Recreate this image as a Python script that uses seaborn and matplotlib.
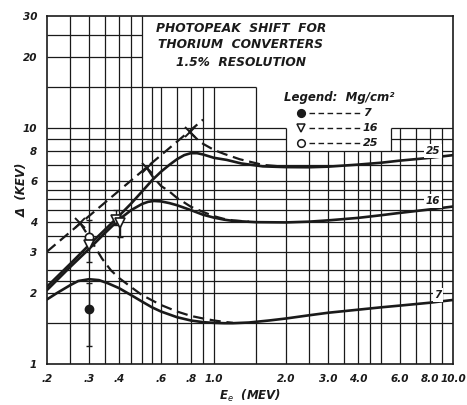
import matplotlib
matplotlib.use("Agg")
import matplotlib.pyplot as plt
from matplotlib.ticker import NullLocator
import pandas as pd
import seaborn as sns

sns.set_theme(style="white")
plt.rcParams["font.family"] = ["DejaVu Sans"]

# ---------------- data ----------------
# 7 mg/cm2 curve (solid)
x_7 = [0.2, 0.22, 0.25, 0.27, 0.3, 0.33, 0.36, 0.4, 0.45, 0.5, 0.55, 0.6, 0.7, 0.8,
       0.9, 1.0, 1.1, 1.2, 1.4, 1.7, 2.0, 2.5, 3.0, 4.0, 5.0, 6.0, 8.0, 10.0]
y_7 = [1.88, 2.0, 2.16, 2.25, 2.29, 2.27, 2.2, 2.1, 1.96, 1.84, 1.74, 1.67, 1.58, 1.53,
       1.505, 1.495, 1.49, 1.49, 1.5, 1.53, 1.56, 1.61, 1.65, 1.7, 1.74, 1.77, 1.82, 1.87]
# 7 mg/cm2 dashed branch
xd_7 = [0.275, 0.29, 0.30, 0.32, 0.34, 0.37, 0.4, 0.45, 0.5, 0.6, 0.7, 0.8, 0.9, 1.0, 1.1, 1.2]
yd_7 = [3.97, 3.65, 3.45, 3.1, 2.8, 2.5, 2.32, 2.12, 1.96, 1.78, 1.67, 1.6, 1.56, 1.53, 1.51, 1.495]

# 16 mg/cm2 curve (solid)
x_16 = [0.2, 0.25, 0.3, 0.35, 0.4, 0.45, 0.5, 0.53, 0.56, 0.6, 0.65, 0.7, 0.8, 0.9, 1.0,
        1.1, 1.2, 1.5, 2.0, 2.5, 3.0, 4.0, 5.0, 6.0, 8.0, 10.0]
y_16 = [2.06, 2.58, 3.08, 3.6, 4.1, 4.5, 4.78, 4.88, 4.92, 4.9, 4.82, 4.72, 4.5, 4.3, 4.18,
        4.1, 4.05, 4.0, 3.99, 4.02, 4.07, 4.17, 4.28, 4.38, 4.53, 4.66]
# 16 mg/cm2 dashed branch
xd_16 = [0.524, 0.55, 0.6, 0.65, 0.7, 0.8, 0.9, 1.0, 1.1, 1.2, 1.4]
yd_16 = [6.79, 6.3, 5.7, 5.4, 5.07, 4.65, 4.42, 4.24, 4.13, 4.07, 4.02]

# 25 mg/cm2 curve (solid)
x_25 = [0.2, 0.25, 0.3, 0.35, 0.4, 0.45, 0.5, 0.55, 0.6, 0.65, 0.7, 0.75, 0.8, 0.85, 0.9,
        1.0, 1.13, 1.3, 1.6, 2.0, 2.5, 3.0, 4.0, 5.0, 6.0, 8.0, 10.0]
y_25 = [2.13, 2.66, 3.2, 3.72, 4.25, 4.8, 5.4, 6.02, 6.55, 7.0, 7.4, 7.7, 7.85, 7.85, 7.75,
        7.5, 7.35, 7.1, 6.9, 6.85, 6.84, 6.88, 7.02, 7.15, 7.3, 7.5, 7.7]
# 25 mg/cm2 dashed branch
xd_25 = [0.79, 0.85, 0.9, 1.0, 1.1, 1.28, 1.6, 2.0]
yd_25 = [9.66, 9.0, 8.6, 8.1, 7.8, 7.4, 7.0, 6.87]

# straight dashed line and its crossing marks
x_line = [0.2, 0.9]
y_line = [3.0, 10.9]
x_cross = [0.275, 0.524, 0.794]
y_cross = [3.97, 6.79, 9.66]

# measured points
pt7_x, pt7_y, pt7_lo, pt7_hi = [0.3], [1.71], [1.19], [2.2]
pt25_x, pt25_y, pt25_lo, pt25_hi = [0.3], [3.45], [3.3], [4.1]
pt16_x = [0.3, 0.388, 0.405]
pt16_y = [3.2, 4.1, 3.95]
pt16_lo = [2.72, 3.9, 3.45]
pt16_hi = [3.35, 4.5, 4.2]

xtick_vals = [0.2, 0.3, 0.4, 0.6, 0.8, 1.0, 2.0, 3.0, 4.0, 6.0, 8.0, 10.0]
xtick_labels = [".2", ".3", ".4", ".6", ".8", "1.0", "2.0", "3.0", "4.0", "6.0", "8.0", "10.0"]
ytick_vals = [1, 2, 3, 4, 6, 8, 10, 20, 30]
ytick_labels = ["1", "2", "3", "4", "6", "8", "10", "20", "30"]

title_lines = ["PHOTOPEAK  SHIFT  FOR", "THORIUM  CONVERTERS", "1.5%  RESOLUTION"]
legend_title = "Legend:  Mg/cm²"
legend_labels = ["7", "16", "25"]

# ---------------- figure ----------------
W, H = 467, 405
fig = plt.figure(figsize=(W / 100, H / 100), dpi=100)
fig.patch.set_facecolor("white")
ax = fig.add_axes([47 / W, 41 / H, 406 / W, 348 / H])
ax.set_facecolor("white")
ax.set_xscale("log")
ax.set_yscale("log")
ax.set_xlim(0.2, 10)
ax.set_ylim(1, 30)

# graph-paper grid (segments)
glw = 0.9
h_full = [1.5, 2, 2.25, 2.5, 3, 3.5, 4, 4.5, 5, 5.5, 6, 7, 8]
for yv in h_full:
    ax.hlines(yv, 0.2, 10, color="k", lw=glw, zorder=1)
for yv in [9, 10]:
    ax.hlines(yv, 0.2, 2.0, color="k", lw=glw, zorder=1)
    ax.hlines(yv, 5.5, 10, color="k", lw=glw, zorder=1)
ax.hlines(15, 0.2, 1.5, color="k", lw=glw, zorder=1)
for yv in [20, 25]:
    ax.hlines(yv, 0.2, 0.5, color="k", lw=glw, zorder=1)
for xv in [0.25, 0.3, 0.35, 0.4, 0.45, 0.5]:
    ax.vlines(xv, 1, 30, color="k", lw=glw, zorder=1)
for xv in [0.55, 0.6, 0.7, 0.8, 0.9, 1.0, 1.5]:
    ax.vlines(xv, 1, 15, color="k", lw=glw, zorder=1)
for xv in [2.0, 6.0, 7.0, 8.0, 9.0]:
    ax.vlines(xv, 1, 10, color="k", lw=glw, zorder=1)
for xv in [2.5, 3.0, 3.5, 4.0, 4.5, 5.0]:
    ax.vlines(xv, 1, 8, color="k", lw=glw, zorder=1)
ax.vlines(5.5, 8, 10, color="k", lw=glw, zorder=1)

# curves
clw = 1.9
dash = (0, (5, 2.6))
for xs, ys in [(x_7, y_7), (x_16, y_16), (x_25, y_25)]:
    sns.lineplot(x=xs, y=ys, ax=ax, color="k", lw=clw, sort=False, estimator=None, zorder=3)
for xs, ys in [(xd_7, yd_7), (xd_16, yd_16), (xd_25, yd_25), (x_line, y_line)]:
    sns.lineplot(x=xs, y=ys, ax=ax, color="k", lw=1.6, linestyle=dash, sort=False,
                 estimator=None, zorder=3)
ax.plot(x_cross, y_cross, "x", color="k", ms=7, mew=1.4, zorder=4)

# error bars and points
def ebar(xs, ys, lo, hi):
    ax.errorbar(xs, ys, yerr=[[y - l for y, l in zip(ys, lo)], [h - y for y, h in zip(ys, hi)]],
                fmt="none", ecolor="k", elinewidth=1.0, capsize=2.5, capthick=1.0, zorder=4)

ebar(pt7_x, pt7_y, pt7_lo, pt7_hi)
ebar(pt25_x, pt25_y, pt25_lo, pt25_hi)
ebar(pt16_x, pt16_y, pt16_lo, pt16_hi)
ax.plot(pt7_x, pt7_y, "o", color="k", ms=6, zorder=5)
ax.plot(pt25_x, pt25_y, "o", mfc="white", mec="k", mew=1.2, ms=6, zorder=5)
ax.plot(pt16_x, pt16_y, "v", mfc="white", mec="k", mew=1.2, ms=6.5, zorder=5)

# ticks
ax.xaxis.set_minor_locator(NullLocator())
ax.yaxis.set_minor_locator(NullLocator())
ax.set_xticks(xtick_vals)
ax.set_xticklabels(xtick_labels)
ax.set_yticks(ytick_vals)
ax.set_yticklabels(ytick_labels)
ax.tick_params(length=0, pad=7, labelsize=7.5, colors="k")
for lab in ax.get_xticklabels() + ax.get_yticklabels():
    lab.set_fontweight("bold")
    lab.set_fontstyle("italic")
for s in ax.spines.values():
    s.set_color("k")
    s.set_linewidth(1.2)
    s.set_visible(True)

lab_kw = dict(fontsize=8.5, fontweight="bold", fontstyle="italic", color="k")
ax.set_xlabel("E$_e$  (MEV)", **lab_kw)
ax.set_ylabel("Δ  (KEV)", **lab_kw)
ax.xaxis.set_label_coords(0.5, (364 - 388) / 348)
ax.yaxis.set_label_coords((29 - 47) / 406, 0.5)

# helper: pixel -> figure fraction
def fx(px):
    return px / W

def fy(py):
    return 1 - py / H

tkw = dict(fontsize=8.8, fontweight="bold", fontstyle="italic", color="k", ha="center", va="center")
for t, py in zip(title_lines, [29, 45, 63]):
    fig.text(fx(241), fy(py), t, **tkw)

fig.text(fx(284), fy(97), legend_title, fontsize=8.5, fontweight="bold", fontstyle="italic",
         ha="left", va="center", color="k")
leg_marks = [dict(marker="o", mfc="k", mec="k"), dict(marker="v", mfc="white", mec="k"),
             dict(marker="o", mfc="white", mec="k")]
for i, (lab, mk) in enumerate(zip(legend_labels, leg_marks)):
    py = [113, 128, 143][i]
    fig.lines.append(plt.Line2D([fx(301)], [fy(py)], transform=fig.transFigure, ms=5.5,
                                mew=1.1, ls="none", **mk))
    fig.lines.append(plt.Line2D([fx(309), fx(362)], [fy(py), fy(py)], transform=fig.transFigure,
                                color="k", lw=1.0, ls=(0, (4, 2.5))))
    fig.text(fx(363), fy(py), lab, fontsize=8, fontweight="bold", fontstyle="italic",
             ha="left", va="center", color="k")

bkw = dict(fontsize=7.5, fontweight="bold", fontstyle="italic", color="k", ha="center",
           va="center", bbox=dict(boxstyle="square,pad=0.15", fc="white", ec="none"), zorder=6)
fig.text(fx(433), fy(151), "25", **bkw)
fig.text(fx(433), fy(201), "16", **bkw)
fig.text(fx(438), fy(295), "7", **bkw)

fig.savefig("out.png", dpi=100, facecolor="white")
